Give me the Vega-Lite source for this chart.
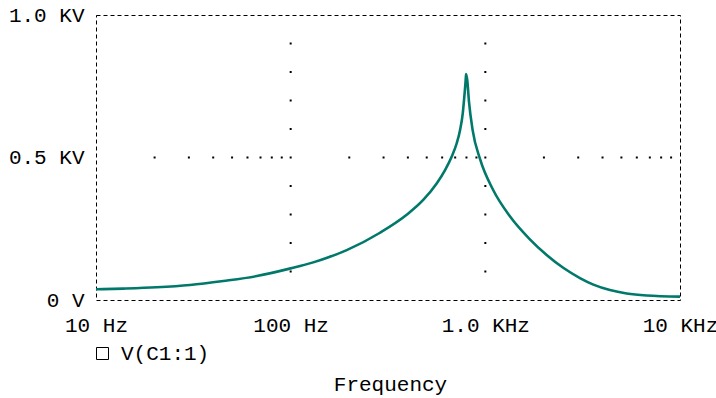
{
  "$schema": "https://vega.github.io/schema/vega-lite/v6.json",
  "width": 584,
  "height": 285,
  "autosize": {"type": "none"},
  "padding": {"left": 96, "top": 15, "right": 36, "bottom": 98},
  "background": "white",
  "config": {
    "font": "Liberation Mono",
    "view": {"stroke": "black", "strokeDash": [4, 3], "strokeWidth": 1},
    "axis": {"domain": false, "ticks": false, "grid": false, "labelFont": "Liberation Mono", "labelFontSize": 21, "labelColor": "black", "titleFont": "Liberation Mono", "titleFontSize": 21, "titleFontWeight": "normal", "titleColor": "black"}
  },
  "datasets": {
    "curve": [
      {"f": 10, "V": 37.5, "s": "V(C1:1)"},
      {"f": 13.8, "V": 40, "s": "V(C1:1)"},
      {"f": 20.5, "V": 44.5, "s": "V(C1:1)"},
      {"f": 30.4, "V": 52.6, "s": "V(C1:1)"},
      {"f": 45.1, "V": 66.7, "s": "V(C1:1)"},
      {"f": 67, "V": 84, "s": "V(C1:1)"},
      {"f": 100, "V": 111, "s": "V(C1:1)"},
      {"f": 130.6, "V": 132, "s": "V(C1:1)"},
      {"f": 157.8, "V": 151, "s": "V(C1:1)"},
      {"f": 194.1, "V": 175, "s": "V(C1:1)"},
      {"f": 287.7, "V": 236, "s": "V(C1:1)"},
      {"f": 394.5, "V": 299, "s": "V(C1:1)"},
      {"f": 479.7, "V": 351, "s": "V(C1:1)"},
      {"f": 562.3, "V": 409, "s": "V(C1:1)"},
      {"f": 620.9, "V": 456, "s": "V(C1:1)"},
      {"f": 671.4, "V": 503, "s": "V(C1:1)"},
      {"f": 712.9, "V": 550, "s": "V(C1:1)"},
      {"f": 741.3, "V": 596, "s": "V(C1:1)"},
      {"f": 765.6, "V": 655, "s": "V(C1:1)"},
      {"f": 779.8, "V": 713, "s": "V(C1:1)"},
      {"f": 792.5, "V": 772, "s": "V(C1:1)"},
      {"f": 796.2, "V": 793, "s": "V(C1:1)"},
      {"f": 807.2, "V": 772, "s": "V(C1:1)"},
      {"f": 824.1, "V": 696, "s": "V(C1:1)"},
      {"f": 861, "V": 595, "s": "V(C1:1)"},
      {"f": 939.7, "V": 494, "s": "V(C1:1)"},
      {"f": 1099, "V": 385, "s": "V(C1:1)"},
      {"f": 1340, "V": 293, "s": "V(C1:1)"},
      {"f": 1694, "V": 213, "s": "V(C1:1)"},
      {"f": 2065, "V": 158, "s": "V(C1:1)"},
      {"f": 2512, "V": 113, "s": "V(C1:1)"},
      {"f": 3062, "V": 77, "s": "V(C1:1)"},
      {"f": 3589, "V": 54, "s": "V(C1:1)"},
      {"f": 4365, "V": 35, "s": "V(C1:1)"},
      {"f": 5321, "V": 23, "s": "V(C1:1)"},
      {"f": 6730, "V": 16, "s": "V(C1:1)"},
      {"f": 10000, "V": 12, "s": "V(C1:1)"}
    ],
    "dots": [
      {"f": 20, "V": 500}, {"f": 30, "V": 500}, {"f": 40, "V": 500}, {"f": 50, "V": 500},
      {"f": 60, "V": 500}, {"f": 70, "V": 500}, {"f": 80, "V": 500}, {"f": 90, "V": 500},
      {"f": 100, "V": 500}, {"f": 200, "V": 500}, {"f": 300, "V": 500}, {"f": 400, "V": 500},
      {"f": 500, "V": 500}, {"f": 600, "V": 500}, {"f": 700, "V": 500}, {"f": 800, "V": 500},
      {"f": 900, "V": 500}, {"f": 1000, "V": 500}, {"f": 2000, "V": 500}, {"f": 3000, "V": 500},
      {"f": 4000, "V": 500}, {"f": 5000, "V": 500}, {"f": 6000, "V": 500}, {"f": 7000, "V": 500},
      {"f": 8000, "V": 500}, {"f": 9000, "V": 500},
      {"f": 100, "V": 100}, {"f": 100, "V": 200}, {"f": 100, "V": 300}, {"f": 100, "V": 400},
      {"f": 100, "V": 600}, {"f": 100, "V": 700}, {"f": 100, "V": 800}, {"f": 100, "V": 900},
      {"f": 1000, "V": 100}, {"f": 1000, "V": 200}, {"f": 1000, "V": 300}, {"f": 1000, "V": 400},
      {"f": 1000, "V": 600}, {"f": 1000, "V": 700}, {"f": 1000, "V": 800}, {"f": 1000, "V": 900}
    ]
  },
  "layer": [
    {
      "data": {"name": "dots"},
      "mark": {"type": "point", "shape": "square", "filled": true, "size": 4, "color": "black", "opacity": 1},
      "encoding": {
        "x": {"field": "f", "type": "quantitative", "scale": {"type": "log", "domain": [10, 10000], "nice": false}},
        "y": {"field": "V", "type": "quantitative", "scale": {"domain": [0, 1000], "nice": false}}
      }
    },
    {
      "data": {"name": "curve"},
      "mark": {"type": "line", "strokeWidth": 2.6, "interpolate": "monotone", "color": "#00796b"},
      "encoding": {
        "x": {
          "field": "f", "type": "quantitative",
          "scale": {"type": "log", "domain": [10, 10000], "nice": false},
          "axis": {
            "values": [10, 100, 1000, 10000],
            "labelExpr": "datum.value == 10 ? '10 Hz' : datum.value == 100 ? '100 Hz' : datum.value == 1000 ? '1.0 KHz' : '10 KHz'",
            "labelBaseline": "alphabetic", "labelPadding": 31, "labelOverlap": false, "labelFlush": false,
            "title": "Frequency", "titleBaseline": "alphabetic", "titleY": 90, "titleX": 294, "titleAnchor": "middle"
          }
        },
        "y": {
          "field": "V", "type": "quantitative",
          "scale": {"domain": [0, 1000], "nice": false},
          "axis": {
            "values": [0, 500, 1000],
            "labelExpr": "datum.value == 0 ? '0 V' : datum.value == 500 ? '0.5 KV' : '1.0 KV'",
            "labelPadding": 12, "labelBaseline": "middle", "labelFlush": false, "labelOverlap": false,
            "title": null
          }
        }
      }
    },
    {
      "data": {"name": "curve"},
      "mark": {"type": "point", "filled": false, "color": "black", "opacity": 0, "strokeWidth": 1, "size": 144},
      "encoding": {
        "x": {"field": "f", "type": "quantitative"},
        "y": {"field": "V", "type": "quantitative"},
        "shape": {
          "field": "s", "type": "nominal",
          "scale": {"range": ["square"]},
          "legend": {
            "title": null, "orient": "none", "legendX": -4, "legendY": 328, "padding": 0,
            "symbolSize": 144, "symbolStrokeWidth": 1, "symbolStrokeColor": "black", "symbolOpacity": 1,
            "labelFont": "Liberation Mono", "labelFontSize": 21, "labelColor": "black", "labelOffset": 8
          }
        }
      }
    }
  ]
}
